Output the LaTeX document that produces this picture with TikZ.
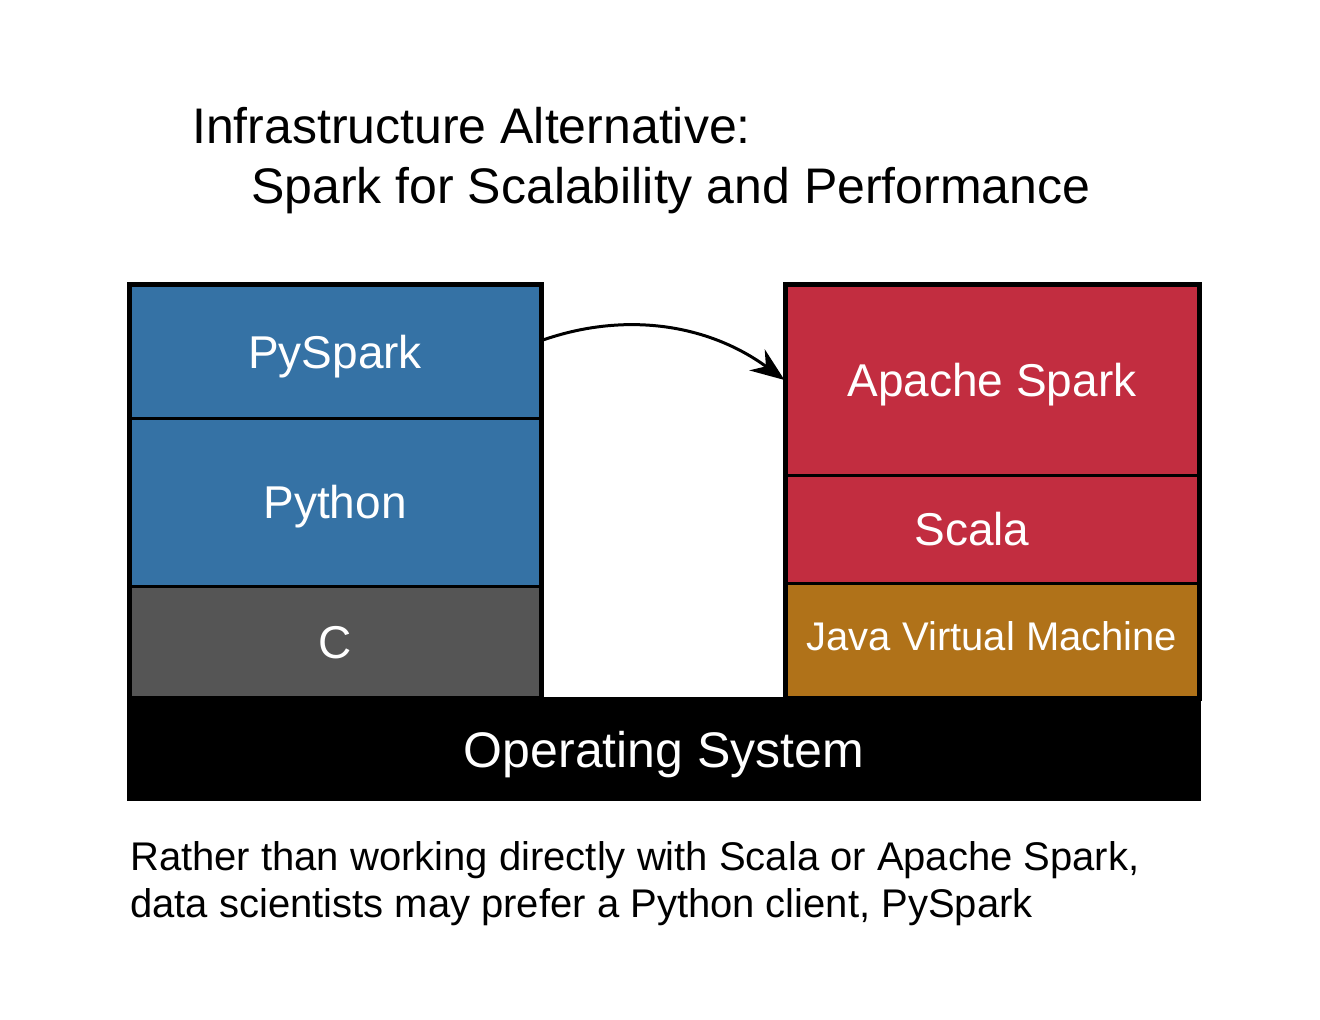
\documentclass[tikz,border=0pt]{standalone}
\usepackage{fontspec}
\setmainfont{Liberation Sans}
\usetikzlibrary{arrows.meta}
\definecolor{pyblue}{HTML}{3572A5}
\definecolor{cgray}{HTML}{555555}
\definecolor{scalared}{HTML}{C22D40}
\definecolor{javagold}{HTML}{B07219}
\begin{document}
\begin{tikzpicture}[x=1pt, y=-1pt,
  layer/.style={rectangle, draw=black, line width=3pt, inner sep=0pt, text=white,
    font=\fontsize{46}{55}\selectfont, text height=33pt, text depth=0pt},
  left layer/.style={layer, minimum width=410pt},
  right layer/.style={layer, minimum width=412pt},
  heading/.style={anchor=base west, inner sep=0pt, font=\fontsize{50}{60}\selectfont},
  note/.style={anchor=base west, inner sep=0pt, font=\fontsize{40}{48}\selectfont}]
\useasboundingbox (0,0) rectangle (1320,1020);
% title
\node[heading] (title1) at (192,143) {Infrastructure Alternative:};
\node[heading] (title2) at (251,203) {Spark for Scalability and Performance};
% python stack
\node[left layer, fill=pyblue, minimum height=133pt] (pyspark) at (335,351.5) {PySpark};
\node[left layer, fill=pyblue, minimum height=168pt] (python) at (335,502) {Python};
\node[left layer, fill=cgray, minimum height=111pt] (c) at (335,641.5) {C};
\draw[line width=4pt] (c.south west) rectangle (pyspark.north east);
% spark stack
\node[right layer, fill=scalared, minimum height=190pt] (apache) at (992,380) {Apache Spark};
\node[right layer, fill=scalared, minimum height=108pt] (scala) at (992,529) {Scala\kern40pt};
\node[right layer, fill=javagold, minimum height=114pt, font=\fontsize{40}{48}\selectfont,
  text height=28.5pt, text depth=8pt] (jvm) at (992,640) {Java Virtual Machine};
\draw[line width=4pt] (jvm.south west) rectangle (apache.north east);
% base
\node[layer, draw=none, fill=black, minimum width=1074pt, minimum height=104pt,
  font=\fontsize{50}{60}\selectfont, text height=36pt] (os) at (664,749) {Operating System};
% arrow
\draw[line width=3pt, -{Stealth[length=34pt, width=26pt, inset=11pt]}]
  ([yshift=11pt]pyspark.east) .. controls +(85,-30) and +(-75,-55) .. (apache.west);
% caption
\node[note] (note1) at (130,870) {Rather than working directly with Scala or Apache Spark,};
\node[note] (note2) at (130,917) {data scientists may prefer a Python client, PySpark};
\end{tikzpicture}
\end{document}
